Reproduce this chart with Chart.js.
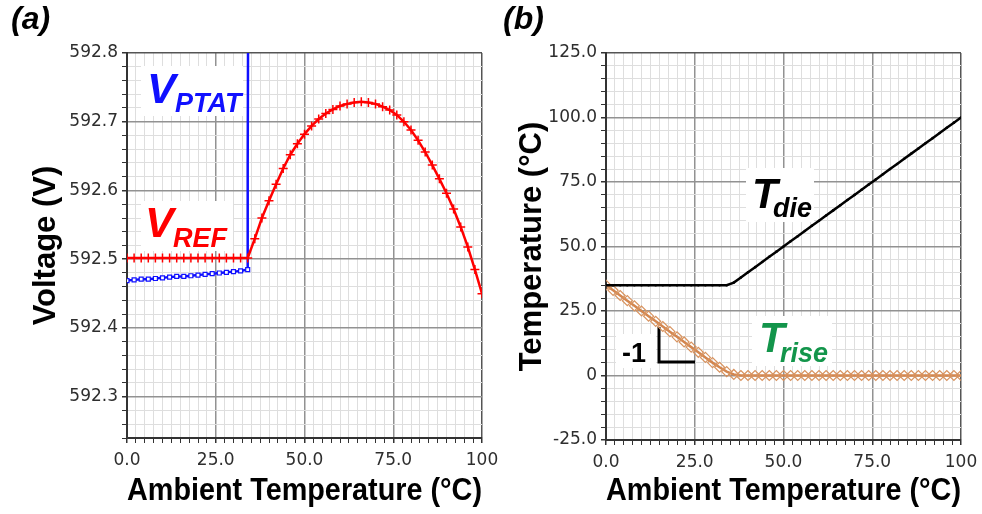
<!DOCTYPE html>
<html>
<head>
<meta charset="utf-8">
<script src="https://cdn.jsdelivr.net/npm/chart.js@4.4.1/dist/chart.umd.min.js"></script>
<style>
  body { margin: 0; background: #fff; }
  .panel { position: absolute; top: 0; height: 514px; }
  #panelA { left: 0; width: 500px; }
  #panelB { left: 500px; width: 482px; }
</style>
</head>
<body>
<div class="panel" id="panelA"><canvas id="chartA" width="500" height="514"></canvas></div>
<div class="panel" id="panelB"><canvas id="chartB" width="482" height="514"></canvas></div>
<script>
// ambient temperature samples (°C), shared by both panels
const ambient = [0, 2, 4, 6, 8, 10, 12, 14, 16, 18, 20, 22, 24, 26, 28, 30, 32, 34,
  36, 38, 40, 42, 44, 46, 48, 50, 52, 54, 56, 58, 60, 62, 64, 66, 68, 70, 72, 74,
  76, 78, 80, 82, 84, 86, 88, 90, 92, 94, 96, 98, 100];

// panel (a)
const vRef = [592.502, 592.502, 592.502, 592.502, 592.502, 592.502, 592.502, 592.502, 592.502,
  592.502, 592.502, 592.502, 592.502, 592.502, 592.502, 592.502, 592.502, 592.502,
  592.530, 592.560, 592.585, 592.609, 592.632, 592.652, 592.668, 592.682, 592.694, 592.704,
  592.712, 592.718, 592.723, 592.726, 592.728, 592.729, 592.728, 592.726, 592.722, 592.717,
  592.710, 592.700, 592.688, 592.673, 592.656, 592.637, 592.617, 592.596, 592.573, 592.547,
  592.518, 592.485, 592.450];
const ptatAmbient = [0, 2, 4, 6, 8, 10, 12, 14, 16, 18, 20, 22, 24, 26, 28, 30, 32, 34, 34, 34.2];
const vPtat = [592.469, 592.470, 592.471, 592.471, 592.472, 592.473, 592.474, 592.475, 592.475,
  592.476, 592.477, 592.478, 592.479, 592.480, 592.481, 592.482, 592.483, 592.485, 592.640, 593.000];

// panel (b)
const tDie = [35, 35, 35, 35, 35, 35, 35, 35, 35, 35, 35, 35, 35, 35, 35, 35, 35, 35,
  36, 38, 40, 42, 44, 46, 48, 50, 52, 54, 56, 58, 60, 62, 64, 66, 68, 70, 72, 74,
  76, 78, 80, 82, 84, 86, 88, 90, 92, 94, 96, 98, 100];
const tRise = [35, 33, 31, 29, 27, 25, 23, 21, 19, 17, 15, 13, 11, 9, 7, 5, 3.2, 1.5,
  0.4, 0, 0, 0, 0, 0, 0, 0, 0, 0, 0, 0, 0, 0, 0, 0, 0, 0, 0, 0,
  0, 0, 0, 0, 0, 0, 0, 0, 0, 0, 0, 0, 0];

// tick labels
const xTickLabels = ['0.0', '25.0', '50.0', '75.0', '100'];
const voltTickLabels = ['592.3', '592.4', '592.5', '592.6', '592.7', '592.8'];
const tempTickLabels = ['-25.0', '0', '25.0', '50.0', '75.0', '100.0', '125.0'];

const tickFont = { family: 'DejaVu Sans', size: 17 };
const titleFont = { family: 'Liberation Sans', size: 31, weight: 'bold' };

function points(xs, ys) {
  return xs.map((x, i) => ({ x: x, y: ys[i] }));
}

function fineTicks(min, max, step) {
  return function (scale) {
    const out = [];
    const n = Math.round((max - min) / step);
    for (let k = 0; k <= n; k++) out.push({ value: Math.round((min + k * step) * 1000) / 1000 });
    scale.ticks = out;
  };
}

function isMult(v, m) {
  const q = v / m;
  return Math.abs(q - Math.round(q)) < 1e-6;
}

// grid styling: dark frame edge, medium major, light minor
function gridStyle(major, edge) {
  return {
    color: c => (c.tick && Math.abs(c.tick.value - edge) < 1e-6) ? '#555'
      : (c.tick && isMult(c.tick.value, major) ? '#929292' : '#dedede'),
    lineWidth: c => (c.tick && Math.abs(c.tick.value - edge) < 1e-6) ? 1.5
      : (c.tick && isMult(c.tick.value, major) ? 1.5 : 1),
    tickColor: '#333',
    tickLength: 5
  };
}

function xAxis(height) {
  return {
    type: 'linear', min: 0, max: 100,
    afterBuildTicks: fineTicks(0, 100, 2.5),
    afterFit: s => { s.height = height; s.paddingLeft = 0; s.paddingRight = 0; },
    grid: gridStyle(25, 100),
    border: { color: '#333', width: 2 },
    ticks: {
      autoSkip: false, maxRotation: 0, minRotation: 0, padding: 7,
      font: tickFont, color: '#2e2e2e',
      callback: v => isMult(v, 25) ? xTickLabels[Math.round(v / 25)] : ''
    },
    title: {
      display: true, text: 'Ambient Temperature (°C)', color: '#000',
      font: titleFont, padding: { top: 0, bottom: 4 }
    }
  };
}

function panelLabel(ctx, text, x) {
  ctx.save();
  ctx.font = 'italic bold 32px "Liberation Sans"';
  ctx.fillStyle = '#000';
  ctx.textBaseline = 'alphabetic';
  ctx.fillText(text, x, 29);
  ctx.restore();
}

function subText(ctx, main, sub, x, y, mainSize, subSize, color, subX, subY) {
  ctx.fillStyle = color;
  ctx.textBaseline = 'alphabetic';
  ctx.font = 'italic bold ' + mainSize + 'px "Liberation Sans"';
  ctx.fillText(main, x, y);
  ctx.font = 'italic bold ' + subSize + 'px "Liberation Sans"';
  ctx.fillText(sub, subX, subY);
}

const notesA = {
  id: 'notesA',
  beforeDatasetsDraw(chart) {
    const ctx = chart.ctx;
    ctx.save();
    ctx.fillStyle = '#fff';
    ctx.fillRect(141, 66, 102, 50);
    ctx.fillRect(141, 201, 92, 50);
    subText(ctx, 'V', 'PTAT', 147, 103, 43, 27, '#1010ff', 175, 112);
    subText(ctx, 'V', 'REF', 145, 237, 43, 27, '#ff0000', 173, 247);
    ctx.restore();
  },
  afterDraw(chart) { panelLabel(chart.ctx, '(a)', 11); }
};

const notesB = {
  id: 'notesB',
  beforeDatasetsDraw(chart) {
    const ctx = chart.ctx;
    ctx.save();
    ctx.fillStyle = '#fff';
    ctx.fillRect(246, 168, 68, 54);
    ctx.fillRect(252, 316, 80, 50);
    ctx.fillRect(116, 334, 40, 34);
    subText(ctx, 'T', 'die', 252, 208, 42, 27, '#000', 273, 217);
    subText(ctx, 'T', 'rise', 259, 352, 42, 27, '#13954b', 280, 362);
    ctx.font = 'bold 27px "Liberation Sans"';
    ctx.fillStyle = '#000';
    ctx.fillText('-1', 122, 362);
    ctx.strokeStyle = '#000';
    ctx.lineWidth = 3;
    ctx.beginPath();
    ctx.moveTo(159, 327);
    ctx.lineTo(159, 362);
    ctx.lineTo(195, 362);
    ctx.stroke();
    ctx.restore();
  },
  afterDraw(chart) { panelLabel(chart.ctx, '(b)', 3); }
};

new Chart(document.getElementById('chartA'), {
  type: 'line',
  data: {
    datasets: [
      {
        label: 'VREF', data: points(ambient, vRef),
        borderColor: '#ff0000', borderWidth: 2.5,
        pointStyle: 'cross', pointRadius: 4.5, pointBorderWidth: 1.5,
        pointBorderColor: '#ff0000'
      },
      {
        label: 'VPTAT', data: points(ptatAmbient, vPtat),
        borderColor: '#1010ff', borderWidth: 2.5,
        pointStyle: 'rect', pointRadius: c => (c.raw && c.raw.y < 592.6) ? 2.8 : 0,
        pointBorderWidth: 1.2, pointBorderColor: '#1010ff', pointBackgroundColor: '#fff'
      }
    ]
  },
  options: {
    responsive: false, animation: false,
    layout: { padding: { top: 53, right: 18, left: 0, bottom: 0 } },
    plugins: { legend: { display: false }, tooltip: { enabled: false } },
    scales: {
      x: xAxis(76),
      y: {
        type: 'linear', min: 592.24, max: 592.8,
        afterBuildTicks: fineTicks(592.24, 592.8, 0.02),
        afterFit: s => { s.width = 127; s.paddingTop = 0; s.paddingBottom = 0; },
        grid: gridStyle(0.1, 592.8),
        border: { color: '#333', width: 2 },
        ticks: {
          autoSkip: false, padding: 4, font: tickFont, color: '#2e2e2e',
          callback: v => isMult(v, 0.1) && v > 592.25 ? voltTickLabels[Math.round((v - 592.3) * 10)] : ''
        },
        title: {
          display: true, text: 'Voltage (V)', color: '#000',
          font: titleFont, padding: { top: 28, bottom: 0 }
        }
      }
    }
  },
  plugins: [notesA]
});

new Chart(document.getElementById('chartB'), {
  type: 'line',
  data: {
    datasets: [
      {
        label: 'Tdie', data: points(ambient, tDie),
        borderColor: '#000', borderWidth: 2.5,
        pointStyle: 'circle', pointRadius: 1.3, pointBorderWidth: 0,
        pointBackgroundColor: '#000'
      },
      {
        label: 'Trise', data: points(ambient, tRise),
        borderColor: '#d3864f', borderWidth: 2.5,
        pointStyle: 'rectRot', pointRadius: 5, pointBorderWidth: 1.2,
        pointBorderColor: '#d8935f', pointBackgroundColor: 'rgba(0,0,0,0)'
      }
    ]
  },
  options: {
    responsive: false, animation: false,
    layout: { padding: { top: 53, right: 21, left: 0, bottom: 0 } },
    plugins: { legend: { display: false }, tooltip: { enabled: false } },
    scales: {
      x: xAxis(74),
      y: {
        type: 'linear', min: -25, max: 125,
        afterBuildTicks: fineTicks(-25, 125, 5),
        afterFit: s => { s.width = 106; s.paddingTop = 0; s.paddingBottom = 0; },
        grid: gridStyle(25, 125),
        border: { color: '#333', width: 2 },
        ticks: {
          autoSkip: false, padding: 4, font: tickFont, color: '#2e2e2e',
          callback: v => isMult(v, 25) ? tempTickLabels[Math.round((v + 25) / 25)] : ''
        },
        title: {
          display: true, text: 'Temperature (°C)', color: '#000',
          font: titleFont, padding: { top: 14, bottom: 0 }
        }
      }
    }
  },
  plugins: [notesB]
});
</script>
</body>
</html>
